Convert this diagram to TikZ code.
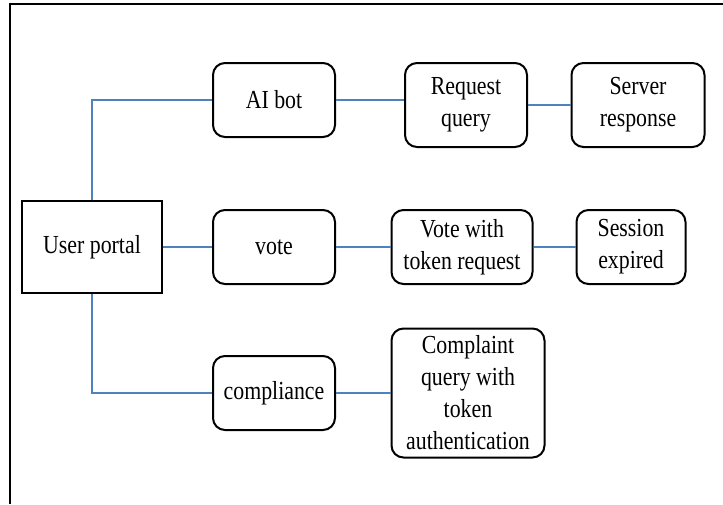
\documentclass[tikz,border=0pt]{standalone}
\usepackage{fontspec}
\setmainfont{Liberation Serif}[FakeStretch=0.84]
\definecolor{linkblue}{HTML}{4F81BD}
\begin{document}
\begin{tikzpicture}[x=0.75pt,y=-0.75pt,
    box/.style={draw, line width=1.5pt, rounded corners=9pt, fill=white, align=center,
                inner sep=1pt, font=\fontsize{19.5}{24}\selectfont},
    root/.style={box, rounded corners=0pt, line width=1.8pt},
    link/.style={draw=linkblue, line width=0.9pt}
]

\useasboundingbox (0,0) rectangle (723,504);
\draw[line width=1.2pt] (10,504) -- (10,4) -- (723,4);

% first column
\node[root, minimum width=140*0.75pt, minimum height=92*0.75pt] (portal) at (92,247) {User portal};

% second column
\node[box, minimum width=122*0.75pt, minimum height=74*0.75pt] (bot)    at (274,100) {AI bot};
\node[box, minimum width=122*0.75pt, minimum height=74*0.75pt] (vote)   at (274,247) {vote};
\node[box, minimum width=122*0.75pt, minimum height=74*0.75pt] (compl)  at (274,393) {compliance};

% third column
\node[box, minimum width=122*0.75pt, minimum height=84*0.75pt] (reqq)   at (466,105) {Request\\query};
\node[box, minimum width=141*0.75pt, minimum height=74*0.75pt] (votetok) at (462,247) {Vote with\\token request};
\node[box, minimum width=153*0.75pt, minimum height=129*0.75pt] (cquery) at (468,393) {Complaint\\query with\\token\\authentication};

% fourth column
\node[box, minimum width=133*0.75pt, minimum height=84*0.75pt] (server)  at (638,105) {Server\\response};
\node[box, minimum width=109*0.75pt, minimum height=74*0.75pt] (session) at (631,247) {Session\\expired};

% links
\draw[link] (portal.north) |- (bot.west);
\draw[link] (portal.east) -- (vote.west);
\draw[link] (portal.south) |- (compl.west);
\draw[link] (bot.east) -- (bot.east -| reqq.west);
\draw[link] (reqq.east) -- (server.west);
\draw[link] (vote.east) -- (votetok.west);
\draw[link] (votetok.east) -- (session.west);
\draw[link] (compl.east) -- (cquery.west);

\end{tikzpicture}
\end{document}
